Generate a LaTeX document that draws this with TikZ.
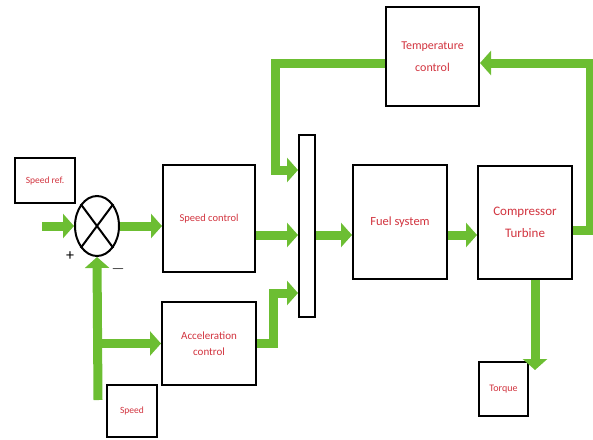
\documentclass[tikz,border=0pt]{standalone}
\usepackage{fontspec}
\setmainfont{Carlito}
\usetikzlibrary{positioning,arrows.meta,shapes.geometric}
\definecolor{uFlow}{HTML}{6CBE32}
\definecolor{uText}{HTML}{D2343F}
\tikzset{
  blk/.style={draw, line width=2pt, fill=white, align=center, text=uText,
              inner sep=0pt},
  mixer/.style={draw, line width=2pt, fill=white, minimum width=16pt,
                minimum height=182pt, inner sep=0pt},
  sumj/.style={ellipse, draw, line width=2pt, fill=white, minimum width=44pt,
               minimum height=60pt, inner sep=0pt},
  % the fat green arrows of the original
  flow/.style={-{Triangle[width=24pt, length=11pt]}, line width=9pt,
               draw=uFlow},
  sgn/.style={font=\fontsize{16}{18}\selectfont, inner sep=1pt},
}
\newcommand{\fs}[2]{\fontsize{#1}{#2}\selectfont}

\begin{document}
\begin{tikzpicture}[x=1pt, y=-1pt]
\useasboundingbox (0,0) rectangle (593,439);

%% ── blocks ───────────────────────────────────────────────────────────────
\node[blk, minimum width=60pt, minimum height=45pt, font=\fs{9.5}{11}] (ref)
  at (45,180.5) {Speed ref.};
\node[sumj] (sum) at (97,226) {};
\draw[line width=2pt] (sum.north west) -- (sum.south east)
                      (sum.north east) -- (sum.south west);
\node[blk, minimum width=92pt, minimum height=107pt, font=\fs{10.5}{12}] (spd)
  at (209,218.5) {Speed control};
\node[blk, minimum width=94pt, minimum height=83pt, font=\fs{11}{16}] (acc)
  at (209,343.5) {Acceleration\\control};
\node[blk, minimum width=50pt, minimum height=52pt, font=\fs{9.5}{11}] (spdin)
  at (132,411) {Speed};
\node[blk, minimum width=94pt, minimum height=114pt, font=\fs{12.5}{14}] (fuel)
  at (400,222) {Fuel system};
\node[mixer] (mix) at (307,226) {};
\node[blk, minimum width=94pt, minimum height=113pt, font=\fs{13}{22}] (cmp)
  at (525,222.5) {Compressor\\Turbine};
\node[blk, minimum width=93pt, minimum height=99pt, font=\fs{12}{22}] (tmp)
  at (432.5,56.5) {Temperature\\control};
\node[blk, minimum width=49pt, minimum height=54pt, font=\fs{10}{11}] (trq)
  at (503.5,389) {Torque};

\node[sgn] (plus) at (70,256) {+};
\node[sgn] (minus) at (118,269) {$-$};

%% ── bend points ──────────────────────────────────────────────────────────
\coordinate (in) at (42,226);
\coordinate (fb) at (98,400);
\coordinate (row) at (0,235);
\coordinate (tl) at (0,63);
\coordinate (jt) at (275,170);
\coordinate (ja) at (273,293);
\coordinate (jc) at (590,230);
\coordinate (jq) at (535,370);

%% ── signal flow ──────────────────────────────────────────────────────────
\draw[flow] (in) -- (sum.west);
\draw[flow] (sum.east) -- (sum.east -| spd.west);
\draw[flow] (fb) -- (sum.south);
\draw[flow] (fb |- acc) -- (acc.west);
\draw[flow] (spd.east |- row) -- (mix.west |- row);
\draw[flow] (acc.east) -| (ja) -- (ja -| mix.west);
\draw[flow] (tmp.west |- tl) -| (jt) -- (jt -| mix.west);
\draw[flow] (mix.east |- row) -- (fuel.west |- row);
\draw[flow] (fuel.east |- row) -- (cmp.west |- row);
\draw[flow] (jc -| cmp.east) -- (jc) |- (tmp.east |- tl);
\draw[flow] (jq |- cmp.south) -- (jq);

\end{tikzpicture}
\end{document}
